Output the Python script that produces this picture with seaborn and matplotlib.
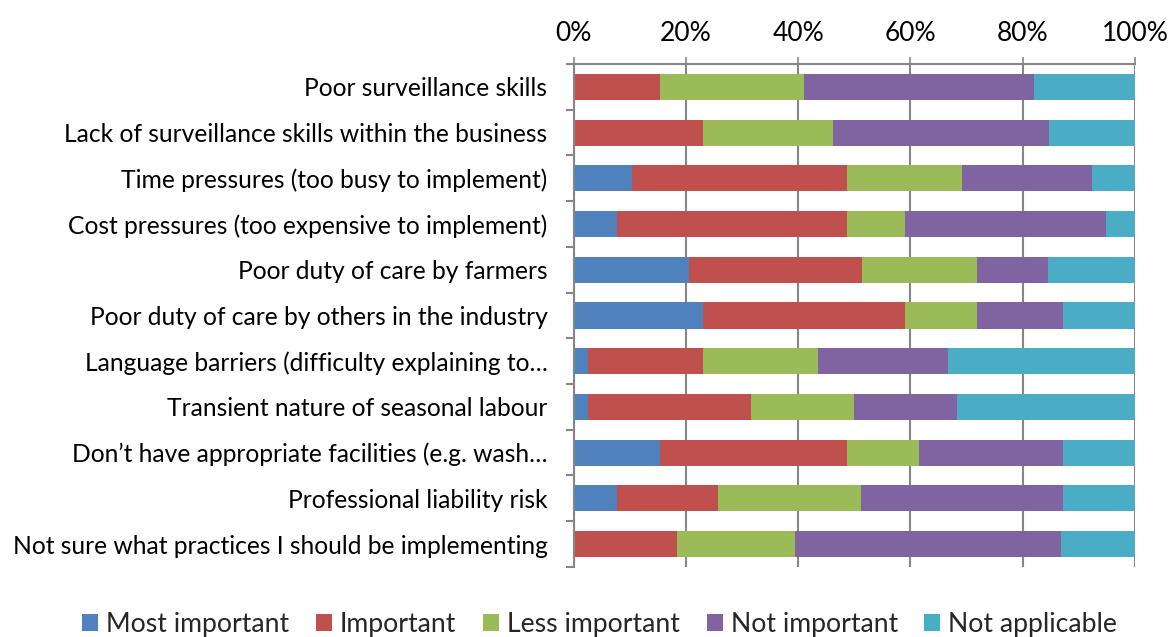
import matplotlib
matplotlib.use("Agg")
import matplotlib.pyplot as plt
from matplotlib.patches import Patch
from matplotlib.ticker import FixedLocator, PercentFormatter
import numpy as np
import pandas as pd
import seaborn as sns

categories = [
    "Poor surveillance skills",
    "Lack of surveillance skills within the business",
    "Time pressures (too busy to implement)",
    "Cost pressures (too expensive to implement)",
    "Poor duty of care by farmers",
    "Poor duty of care by others in the industry",
    "Language barriers (difficulty explaining to\u2026",
    "Transient nature of seasonal labour",
    "Don\u2019t have appropriate facilities (e.g. wash\u2026",
    "Professional liability risk",
    "Not sure what practices I should be implementing",
]

most_important = [0.0, 0.0, 10.3, 7.7, 20.5, 23.1, 2.6, 2.6, 15.4, 7.7, 0.0]
important = [15.4, 23.1, 38.5, 41.0, 30.8, 35.9, 20.5, 28.9, 33.3, 17.9, 18.4]
less_important = [25.6, 23.1, 20.5, 10.3, 20.5, 12.8, 20.5, 18.4, 12.8, 25.6, 21.1]
not_important = [41.0, 38.5, 23.1, 35.9, 12.8, 15.4, 23.1, 18.4, 25.6, 35.9, 47.4]
not_applicable = [17.9, 15.4, 7.7, 5.1, 15.4, 12.8, 33.3, 31.6, 12.8, 12.8, 13.2]

series_names = ["Most important", "Important", "Less important", "Not important", "Not applicable"]
series_values = [most_important, important, less_important, not_important, not_applicable]
colors = ["#4F81BD", "#C0504D", "#9BBB59", "#8064A2", "#4BACC6"]

FONT = ["Lato", "DejaVu Sans"]
sns.set_theme(style="white")
plt.rcParams["font.family"] = FONT

fig = plt.figure(figsize=(11.76, 6.37), dpi=100)
ax = fig.add_axes([0.488, 0.110, 0.477, 0.7895])

# Stack by drawing cumulative totals, widest first
cum = np.cumsum(np.array(series_values), axis=0)
cum = cum / cum[-1] * 100
for i in range(len(series_names) - 1, -1, -1):
    df = pd.DataFrame({"category": categories, "value": cum[i]})
    sns.barplot(data=df, x="value", y="category", color=colors[i], orient="h",
                width=0.57, saturation=1, ax=ax, zorder=2, linewidth=0)

ax.set_xlim(0, 100)
ax.set_ylim(10.5, -0.5)
ax.set_xlabel("")
ax.set_ylabel("")
ax.xaxis.tick_top()
ax.xaxis.set_major_locator(FixedLocator([0, 20, 40, 60, 80, 100]))
ax.xaxis.set_major_formatter(PercentFormatter(decimals=0))
ax.tick_params(axis="x", which="major", direction="out", length=5, width=1.2,
               color="#868686", labelsize=19, pad=8, labelcolor="#000000")
ax.grid(axis="x", color="#868686", linewidth=1.5, zorder=0)
ax.set_axisbelow(True)

ax.yaxis.set_minor_locator(FixedLocator(np.arange(-0.5, 11, 1)))
ax.tick_params(axis="y", which="major", length=0, labelsize=17.7, pad=19, labelcolor="#000000")
ax.tick_params(axis="y", which="minor", direction="out", length=6, width=1.5, color="#868686", left=True)

for side in ["bottom", "right"]:
    ax.spines[side].set_visible(False)
for side in ["top", "left"]:
    ax.spines[side].set_color("#868686")
    ax.spines[side].set_linewidth(1.5)

handles = [Patch(facecolor=c, edgecolor="none", label=n) for n, c in zip(series_names, colors)]
fig.legend(handles=handles, loc="center", bbox_to_anchor=(0.51, 0.02), ncol=5,
           frameon=False, fontsize=19.2, handlelength=0.6, handleheight=0.6,
           handletextpad=0.3, columnspacing=1.0)

fig.savefig("out.png", dpi=100)
